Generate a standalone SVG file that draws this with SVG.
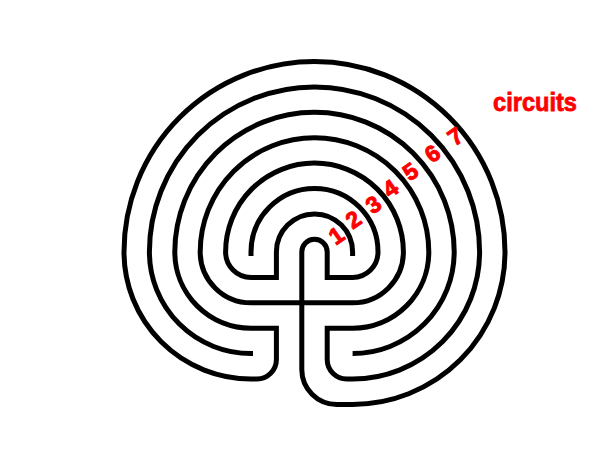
<svg xmlns="http://www.w3.org/2000/svg" width="605" height="454" viewBox="0 0 605 454">
<style>
.wall{fill:none;stroke:#000;stroke-width:5;stroke-linecap:butt;stroke-linejoin:miter}
.num{font-family:"Liberation Sans",Arial,sans-serif;font-weight:bold;font-size:23px;fill:#f00;stroke:#f00;stroke-width:1;text-anchor:middle}
.lbl{font-family:"Liberation Sans",Arial,sans-serif;font-weight:bold;font-size:26px;fill:#f00;stroke:#f00;stroke-width:0.8}
</style>
<rect width="605" height="454" fill="#fff"/>
<g id="connectors">
<path id="wall-a" class="wall" d="M 352.6 353.6 A 101.6 101.6 0 0 0 454.2 252 A 139.7 139.7 0 0 0 174.8 252 A 76.2 76.2 0 0 0 251 328.2 L 276.4 328.2 L 276.4 359.6 A 19.4 19.4 0 0 1 257 379 L 251 379 A 127 127 0 0 1 124 252 A 190.5 190.5 0 0 1 505 252 A 152.4 152.4 0 0 1 352.6 404.4 L 336.8 404.4 A 35 35 0 0 1 301.8 369.4 L 301.8 252 A 12.7 12.7 0 0 1 327.2 252 L 327.2 277.4 L 352.6 277.4 A 25.4 25.4 0 0 0 378 252 A 63.5 63.5 0 0 0 251 252 L 251 256"/>
<path id="wall-b" class="wall" d="M 352.6 256 L 352.6 252 A 38.1 38.1 0 0 0 276.4 252 L 276.4 277.4 L 251 277.4 A 25.4 25.4 0 0 1 225.6 252 A 88.9 88.9 0 0 1 403.4 252 A 50.8 50.8 0 0 1 352.6 302.8 L 251 302.8 A 50.8 50.8 0 0 1 200.2 252 A 114.3 114.3 0 0 1 428.8 252 A 76.2 76.2 0 0 1 352.6 328.2 L 327.2 328.2 L 327.2 359.6 A 19.4 19.4 0 0 0 346.6 379 L 352.6 379 A 127 127 0 0 0 479.6 252 A 165.1 165.1 0 0 0 149.4 252 A 101.6 101.6 0 0 0 251 353.6 L 253 353.6"/>
</g>
<g id="labels">
<text class="num" transform="translate(341,242) rotate(-35)">1</text>
<text class="num" transform="translate(358,226) rotate(-35)">2</text>
<text class="num" transform="translate(378,211) rotate(-35)">3</text>
<text class="num" transform="translate(395,195) rotate(-35)">4</text>
<text class="num" transform="translate(415,178) rotate(-35)">5</text>
<text class="num" transform="translate(437,160) rotate(-35)">6</text>
<text class="num" transform="translate(460,143) rotate(-35)">7</text>
<text id="circuits" class="lbl" x="493" y="111" textLength="84" lengthAdjust="spacingAndGlyphs">circuits</text>
</g>
</svg>
